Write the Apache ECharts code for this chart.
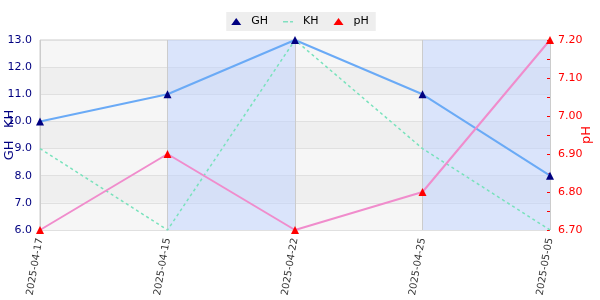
<!DOCTYPE html>
<html><head><meta charset="utf-8">
<script src="https://cdn.jsdelivr.net/npm/echarts@6/dist/echarts.min.js"></script>
<style>html,body{margin:0;padding:0;background:#fff}#c{width:600px;height:300px}</style>
</head><body><div id="c"></div>
<script>
const dates = ['2025-04-17','2025-04-15','2025-04-22','2025-04-25','2025-05-05'];
const ghValues = [10, 11, 13, 11, 8];
const khValues = [9, 6, 13, 9, 6];
const phValues = [6.70, 6.90, 6.70, 6.80, 7.20];
const seriesNames = ['GH', 'KH', 'pH'];

const chart = echarts.init(document.getElementById('c'), null, {renderer:'canvas'});
const FONT = 'DejaVu Sans';
chart.setOption({
  animation: false,
  textStyle: {fontFamily: FONT},
  legend: {
    top: 12, left: 'center',
    backgroundColor: '#eeeeee',
    padding: [4, 7, 4, 5],
    itemWidth: 10, itemHeight: 7, itemGap: 15,
    textStyle: {fontSize: 11, color: '#000', fontFamily: FONT, padding: [0, 0, 0, 5]},
    data: [
      {name: seriesNames[0], icon: 'triangle', itemStyle: {color: '#000080'}},
      {name: seriesNames[1], icon: 'path://M0,0L0,0M0,7L0,7M0,3h5v1.5h-5zM7,3h3v1.5h-3z', itemStyle: {color: '#80e0c0'}},
      {name: seriesNames[2], icon: 'triangle', itemStyle: {color: '#ff0000'}}
    ]
  },
  grid: {left: 40, right: 50, top: 40, bottom: 70, outerBoundsMode: 'none', containLabel: false,
         show: true, borderColor: '#cccccc', borderWidth: 1, backgroundColor: 'transparent'},
  xAxis: {
    type: 'category', data: dates, boundaryGap: false,
    axisLine: {show: false}, axisTick: {show: false},
    axisLabel: {rotate: 80, fontSize: 10, color: '#333', margin: 8, fontFamily: FONT},
    splitLine: {show: true, lineStyle: {color: '#cccccc'}},
    splitArea: {show: true, areaStyle: {color: ['rgba(0,0,0,0)', 'rgba(190,210,255,0.5)']}}
  },
  yAxis: [{
    type: 'value', min: 6, max: 13, interval: 1, position: 'left',
    name: 'GH   KH', nameLocation: 'middle', nameGap: 24, nameMoveOverlap: false,
    nameTextStyle: {color: '#000080', fontSize: 13, fontFamily: FONT},
    axisLine: {show: false}, axisTick: {show: false},
    axisLabel: {color: '#000080', fontSize: 11, formatter: v => v.toFixed(1), margin: 8, fontFamily: FONT},
    splitLine: {show: true, lineStyle: {color: '#e0e0e0'}},
    splitArea: {show: true, areaStyle: {color: ['#f6f6f6', '#efefef']}}
  }, {
    type: 'value', min: 6.7, max: 7.2, interval: 0.1, position: 'right',
    name: 'pH', nameLocation: 'middle', nameGap: 30, nameMoveOverlap: false,
    nameTextStyle: {color: '#ff0000', fontSize: 13, fontFamily: FONT},
    axisLine: {show: false},
    axisTick: {show: true, inside: true, length: 3, lineStyle: {color: '#ff0000'}},
    minorTick: {show: true, splitNumber: 2, length: 3, lineStyle: {color: '#ff0000'}},
    axisLabel: {color: '#ff0000', fontSize: 11, formatter: v => v.toFixed(2), margin: 8, fontFamily: FONT},
    splitLine: {show: false}, splitArea: {show: false}
  }],
  series: [{
    name: seriesNames[0], type: 'line', data: ghValues, yAxisIndex: 0,
    symbol: 'triangle', symbolSize: 8,
    itemStyle: {color: '#000080'},
    lineStyle: {color: '#6aaaf6', width: 2}
  }, {
    name: seriesNames[1], type: 'line', data: khValues, yAxisIndex: 0,
    symbol: 'none',
    itemStyle: {color: '#80e0c0'},
    lineStyle: {color: '#78e2bc', width: 1.5, type: [3, 3]}
  }, {
    name: seriesNames[2], type: 'line', data: phValues, yAxisIndex: 1,
    symbol: 'triangle', symbolSize: 8,
    itemStyle: {color: '#ff0000'},
    lineStyle: {color: '#f08ccc', width: 2}
  }]
});
</script></body></html>
